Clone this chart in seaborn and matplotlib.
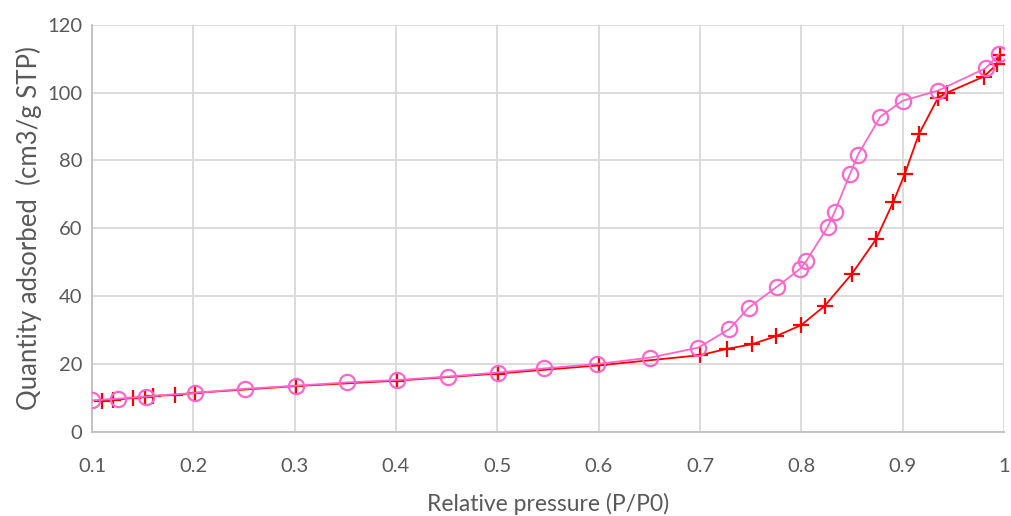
import matplotlib
matplotlib.use('Agg')
import matplotlib.pyplot as plt
import seaborn as sb

# desorption branch (pink circles)
des_p = [0.100, 0.126, 0.153, 0.202, 0.251, 0.301, 0.352, 0.401, 0.451, 0.501, 0.546, 0.598,
         0.651, 0.698, 0.729, 0.748, 0.776, 0.799, 0.805, 0.826, 0.833, 0.848, 0.856, 0.878,
         0.900, 0.935, 0.982, 0.995]
des_q = [9.3, 9.8, 10.4, 11.5, 12.7, 13.6, 14.6, 15.3, 16.3, 17.5, 18.7, 20.0,
         21.9, 24.8, 30.3, 36.6, 42.8, 48.1, 50.4, 60.4, 64.9, 76.0, 81.7, 92.9,
         97.6, 100.6, 107.2, 111.3]

# adsorption branch (red plus)
ads_p = [0.110, 0.121, 0.140, 0.152, 0.160, 0.182, 0.202, 0.301, 0.401, 0.501, 0.600, 0.700,
         0.727, 0.751, 0.775, 0.800, 0.823, 0.850, 0.874, 0.891, 0.902, 0.916, 0.935, 0.944,
         0.980, 0.993, 0.996]
ads_q = [9.1, 9.4, 10.0, 10.3, 10.6, 10.9, 11.5, 13.5, 15.1, 17.2, 19.6, 22.6,
         24.5, 25.8, 28.2, 31.5, 37.1, 46.6, 56.9, 67.9, 75.9, 87.7, 98.5, 100.0,
         104.7, 108.3, 111.1]

xticks = [0.1, 0.2, 0.3, 0.4, 0.5, 0.6, 0.7, 0.8, 0.9, 1.0]
xtick_labels = ['0.1', '0.2', '0.3', '0.4', '0.5', '0.6', '0.7', '0.8', '0.9', '1']
yticks = [0, 20, 40, 60, 80, 100, 120]

sb.set_style('white')
plt.rcParams['font.family'] = ['Lato', 'DejaVu Sans']

fig = plt.figure(figsize=(10.11, 5.16), dpi=100)
ax = fig.add_axes([0.091, 0.163, 0.902, 0.789])

sb.lineplot(x=ads_p, y=ads_q, ax=ax, color='#FF0000', linewidth=1.3, estimator=None, sort=False,
            marker='+', markersize=11, markeredgewidth=1.6, markeredgecolor='#FF0000', zorder=3)
sb.lineplot(x=des_p, y=des_q, ax=ax, color='#FF66CC', linewidth=1.3, estimator=None, sort=False,
            marker='o', markersize=11, markerfacecolor='none', markeredgewidth=1.6,
            markeredgecolor='#FF66CC', zorder=4)

ax.set_xlim(0.1, 1.0)
ax.set_ylim(0, 120)
ax.set_xticks(xticks)
ax.set_xticklabels(xtick_labels)
ax.set_yticks(yticks)
ax.grid(True, color='#D9D9D9', linewidth=1.3)
ax.set_axisbelow(True)
for s in ['top', 'right']:
    ax.spines[s].set_visible(False)
for s in ['left', 'bottom']:
    ax.spines[s].set_color('#BFBFBF')
    ax.spines[s].set_linewidth(1.3)
ax.tick_params(axis='both', length=0, labelsize=14.5, labelcolor='#595959')
ax.tick_params(axis='x', pad=19)
ax.tick_params(axis='y', pad=7)
ax.set_xlabel('Relative pressure (P/P0)', fontsize=16.5, color='#595959', labelpad=13)
ax.set_ylabel('Quantity adsorbed  (cm3/g STP)', fontsize=18.5, color='#595959', labelpad=4)

fig.savefig('out.png', dpi=100)
